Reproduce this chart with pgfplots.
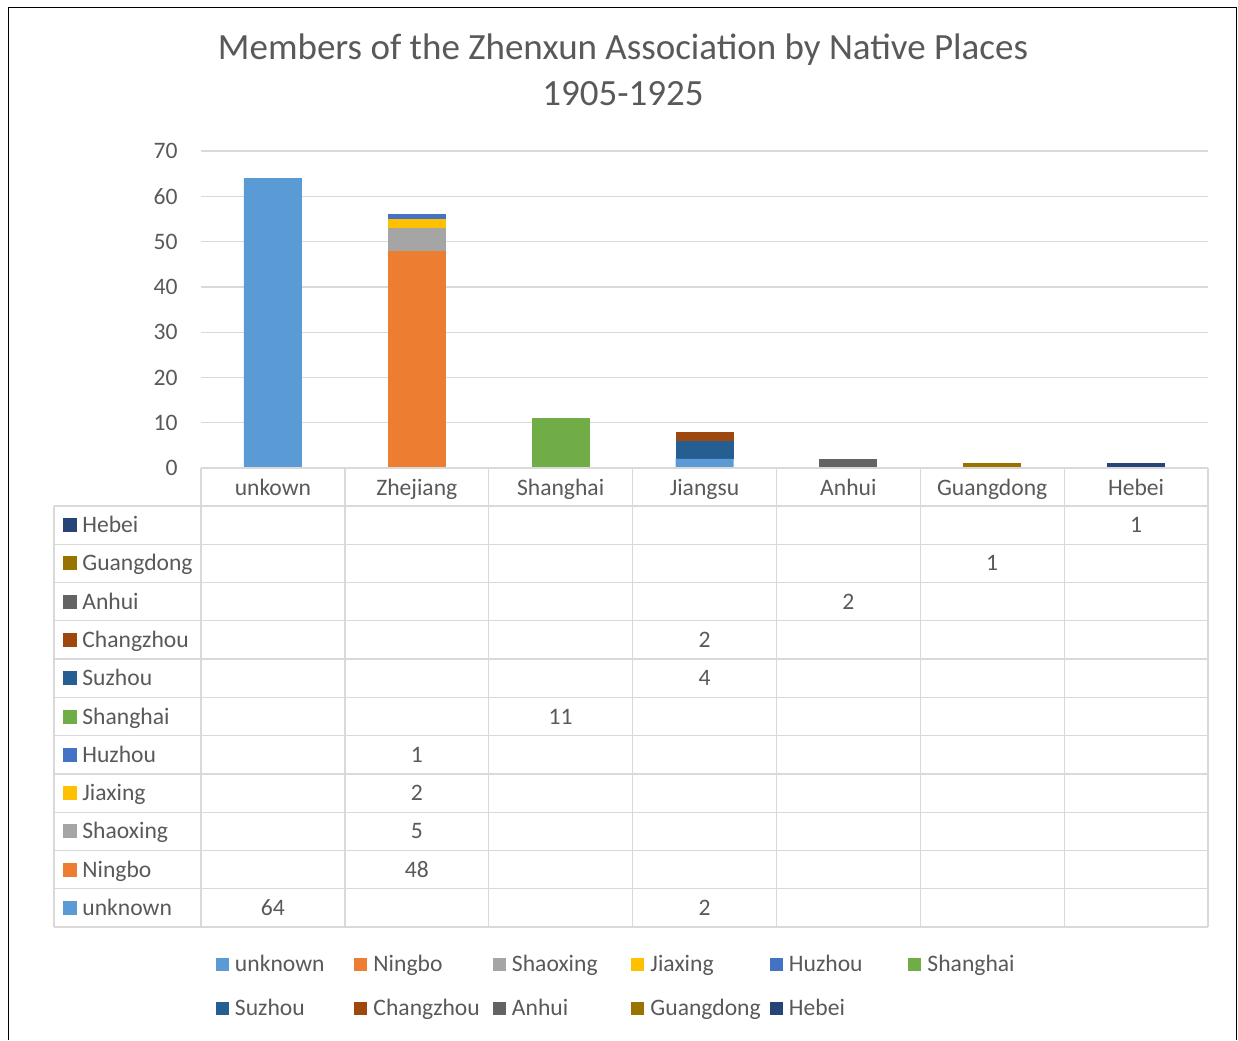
\documentclass[border=0pt]{standalone}
\usepackage{pgfplots}
\pgfplotsset{compat=1.18}
\usepackage{pgfplotstable}
\usepackage{fontspec}
\setmainfont{Carlito}
\definecolor{cUnknown}{HTML}{5B9BD5}
\definecolor{cNingbo}{HTML}{ED7D31}
\definecolor{cShaoxing}{HTML}{A5A5A5}
\definecolor{cJiaxing}{HTML}{FFC000}
\definecolor{cHuzhou}{HTML}{4472C4}
\definecolor{cShanghai}{HTML}{70AD47}
\definecolor{cSuzhou}{HTML}{255E91}
\definecolor{cChangzhou}{HTML}{9E480E}
\definecolor{cAnhui}{HTML}{636363}
\definecolor{cGuangdong}{HTML}{997300}
\definecolor{cHebei}{HTML}{264478}
\definecolor{txt}{HTML}{595959}
\definecolor{gridc}{HTML}{D9D9D9}
\newcommand{\lbl}{\fontsize{11.8pt}{14pt}\selectfont}
\pgfplotstableread{
x unknown Ningbo Shaoxing Jiaxing Huzhou Shanghai Suzhou Changzhou Anhui Guangdong Hebei
0 64 0  0 0 0 0  0 0 0 0 0
1 0  48 5 2 1 0  0 0 0 0 0
2 0  0  0 0 0 11 0 0 0 0 0
3 2  0  0 0 0 0  4 2 0 0 0
4 0  0  0 0 0 0  0 0 2 0 0
5 0  0  0 0 0 0  0 0 0 1 0
6 0  0  0 0 0 0  0 0 0 0 1
}\datatable
\begin{document}
\begin{tikzpicture}
\useasboundingbox (0pt,0pt) rectangle (619pt,-520pt);
\begin{axis}[
  at={(100.5pt,-234pt)}, anchor=south west,
  scale only axis, width=503.5pt, height=158.5pt,
  xmin=-0.5, xmax=6.5, ymin=0, ymax=70,
  ybar stacked, bar width=29pt,
  xtick={0,...,6},
  xticklabels={unkown,Zhejiang,Shanghai,Jiangsu,Anhui,Guangdong,Hebei},
  ytick={0,10,...,70},
  ymajorgrids, grid style={gridc, line width=0.65pt},
  axis line style={draw=none}, major tick length=0pt,
  tick label style={font=\lbl, text=txt},
  yticklabel style={anchor=east, inner sep=0pt, xshift=-11.5pt},
  xticklabel style={anchor=base, inner sep=0pt, yshift=-13.5pt},
  /pgf/number format/assume math mode=true,
  clip=false,
  legend columns=6,
  legend style={draw=none, fill=none, at={(axis description cs:0.0149,-1.533)}, anchor=north west,
    inner sep=0pt, outer sep=0pt, column sep=0pt, row sep=11pt, font=\lbl, text=txt,
    nodes={inner sep=0pt, text height=9pt, text depth=2pt}},
  legend image code/.code={\fill[#1] (0pt,-3.25pt) rectangle (6.5pt,3.25pt); \path (9.5pt,0pt);},
]
\addplot[fill=cUnknown, draw=none] table[x=x,y=unknown]{\datatable};
\addlegendentry{\makebox[59.75pt][l]{unknown}}
\addplot[fill=cNingbo, draw=none] table[x=x,y=Ningbo]{\datatable};
\addlegendentry{\makebox[59.75pt][l]{Ningbo}}
\addplot[fill=cShaoxing, draw=none] table[x=x,y=Shaoxing]{\datatable};
\addlegendentry{\makebox[59.75pt][l]{Shaoxing}}
\addplot[fill=cJiaxing, draw=none] table[x=x,y=Jiaxing]{\datatable};
\addlegendentry{\makebox[59.75pt][l]{Jiaxing}}
\addplot[fill=cHuzhou, draw=none] table[x=x,y=Huzhou]{\datatable};
\addlegendentry{\makebox[59.75pt][l]{Huzhou}}
\addplot[fill=cShanghai, draw=none] table[x=x,y=Shanghai]{\datatable};
\addlegendentry{\makebox[59.75pt][l]{Shanghai}}
\addplot[fill=cSuzhou, draw=none] table[x=x,y=Suzhou]{\datatable};
\addlegendentry{\makebox[59.75pt][l]{Suzhou}}
\addplot[fill=cChangzhou, draw=none] table[x=x,y=Changzhou]{\datatable};
\addlegendentry{\makebox[59.75pt][l]{Changzhou}}
\addplot[fill=cAnhui, draw=none] table[x=x,y=Anhui]{\datatable};
\addlegendentry{\makebox[59.75pt][l]{Anhui}}
\addplot[fill=cGuangdong, draw=none] table[x=x,y=Guangdong]{\datatable};
\addlegendentry{\makebox[59.75pt][l]{Guangdong}}
\addplot[fill=cHebei, draw=none] table[x=x,y=Hebei]{\datatable};
\addlegendentry{\makebox[59.75pt][l]{Hebei}}
\end{axis}
\begin{scope}[x=0.5pt,y=-0.5pt]
% frame
\draw[black, line width=0.6pt] (8.5,1040) -- (8.5,7.5) -- (1236.7,7.5) -- (1236.7,1040);
% title
\node[align=center, text=txt, font=\fontsize{18.5pt}{23pt}\selectfont] at (623,70)
  {Members of the Zhenxun Association by Native Places\\1905-1925};
% data table grid
\begin{scope}[draw=gridc, line width=0.65pt]
\draw (201,468) -- (1208,468);
\foreach \i in {0,...,11} {\draw (54,{506+38.273*\i}) -- (1208,{506+38.273*\i});}
\draw (54,506) -- (54,927);
\foreach \i in {0,...,7} {\draw ({201+143.857*\i},468) -- ({201+143.857*\i},927);}
\end{scope}
% row labels
\foreach \n/\c [count=\i from 0] in {Hebei/cHebei, Guangdong/cGuangdong, Anhui/cAnhui,
  Changzhou/cChangzhou, Suzhou/cSuzhou, Shanghai/cShanghai, Huzhou/cHuzhou, Jiaxing/cJiaxing,
  Shaoxing/cShaoxing, Ningbo/cNingbo, unknown/cUnknown} {
  \fill[\c] (63,{525.14+38.273*\i-7}) rectangle (77,{525.14+38.273*\i+7});
  \node[anchor=base west, inner sep=0pt, text=txt, font=\lbl] at (82,{525.14+38.273*\i+7.5}) {\n};
}
% table values
\foreach \c/\r/\v in {6/0/1, 5/1/1, 4/2/2, 3/3/2, 3/4/4, 2/5/11, 1/6/1, 1/7/2, 1/8/5, 1/9/48, 0/10/64, 3/10/2} {
  \node[anchor=base, inner sep=0pt, text=txt, font=\lbl] at ({201+143.857*(\c+0.5)},{525.14+38.273*\r+7.5}) {\v};
}
\end{scope}
\end{tikzpicture}
\end{document}
